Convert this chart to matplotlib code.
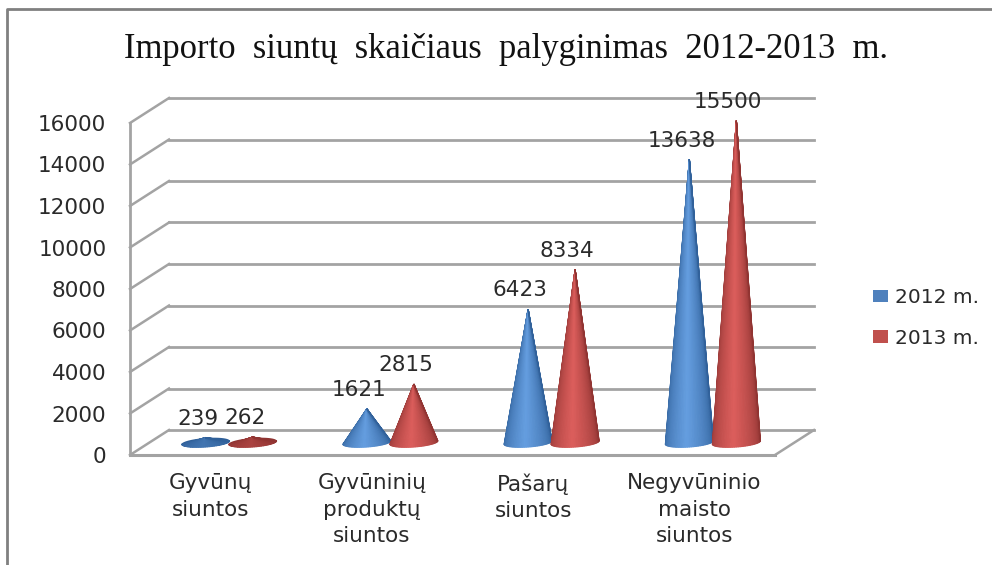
import matplotlib
matplotlib.use('Agg')
import matplotlib.pyplot as plt
import numpy as np
from matplotlib.collections import PolyCollection
from matplotlib.lines import Line2D
from matplotlib.patches import Patch
from matplotlib.colors import to_rgb

categories = ['Gyvūnų\nsiuntos', 'Gyvūninių\nproduktų\nsiuntos', 'Pašarų\nsiuntos', 'Negyvūninio\nmaisto\nsiuntos']
series_names = ['2012 m.', '2013 m.']
values_2012 = [239, 1621, 6423, 13638]
values_2013 = [262, 2815, 8334, 15500]
y_ticks = [0, 2000, 4000, 6000, 8000, 10000, 12000, 14000, 16000]
title_text = 'Importo  siuntų  skaičiaus  palyginimas  2012-2013  m.'

W, H = 992, 565
fig = plt.figure(figsize=(W / 100, H / 100), dpi=100)
# front plane of the fake 3d box, in pixels
left, right, bottom, top = 130, 775, 455, 123
ax = fig.add_axes([left / W, 1 - bottom / H, (right - left) / W, (bottom - top) / H])
ax.set_xlim(0, 4)
ax.set_ylim(0, 16000)

px_x = 4 / (right - left)
px_y = 16000 / (bottom - top)
depth_x = 39 * px_x
depth_y = 25 * px_y
grid_color = '#a3a3a3'

# back wall, side wall and floor
for v in y_ticks:
    ax.plot([depth_x, 4 + depth_x], [v + depth_y, v + depth_y], color=grid_color, lw=2, clip_on=False, zorder=1)
    ax.plot([0, depth_x], [v, v + depth_y], color=grid_color, lw=1.8, clip_on=False, zorder=1)
ax.plot([4, 4 + depth_x], [0, depth_y], color=grid_color, lw=1.8, clip_on=False, zorder=1)
ax.plot([0, 4], [0, 0], color=grid_color, lw=2.2, clip_on=False, zorder=2)
ax.plot([0, 0], [0, 16000], color=grid_color, lw=2, clip_on=False, zorder=2)


def shade(t, dark, light, strength):
    # t goes 0..1 over the visible side of the cone, highlight a bit left of centre
    k = np.clip(1 - abs(t - 0.47) / 0.53, 0, 1) ** 0.9 * strength
    return tuple(np.array(to_rgb(dark)) * (1 - k) + np.array(to_rgb(light)) * k)


def draw_cone(xc, value, dark, light):
    cx = xc + depth_x / 2
    cy = depth_y / 2
    rx = 24 * px_x
    ry = 4.5 * px_y
    skew = 1.7 * px_y
    apex = (cx, cy + value)
    angles = np.linspace(np.pi, 2 * np.pi, 41)
    bx = cx + rx * np.cos(angles)
    by = cy + ry * np.sin(angles) + skew * np.cos(angles)
    # flat cones are seen from above, they stay dark
    strength = min(1, value / 1200 + 0.15)
    # back half of the base, seen only on the flat cones
    back = np.linspace(0, np.pi, 40)
    ax.fill(cx + rx * np.cos(back), cy + ry * np.sin(back) + skew * np.cos(back),
            color=dark, lw=0, zorder=3, clip_on=False)
    polys = []
    cols = []
    for i in range(len(angles) - 1):
        polys.append([apex, (bx[i], by[i]), (bx[i + 1], by[i + 1])])
        cols.append(shade((i + 0.5) / (len(angles) - 1), dark, light, strength))
    ax.add_collection(PolyCollection(polys, facecolors=cols, edgecolors=cols, linewidths=0.8,
                                     zorder=3, clip_on=False, joinstyle='miter'))
    ax.annotate(str(value), xy=apex, xytext=(-8 * 0.72, 19 * 0.72), textcoords='offset points',
                ha='center', va='center', fontsize=15.5, color='#2a2a2a', zorder=5, annotation_clip=False)


for i in range(len(categories)):
    draw_cone(i + 0.5 - 24.5 * px_x, values_2012[i], '#2f5f98', '#659ee0')
    draw_cone(i + 0.5 + 22.5 * px_x, values_2013[i], '#8e3331', '#dc5e5c')

ax.set_xticks(np.arange(len(categories)) + 0.5)
ax.set_xticklabels(categories, fontsize=15.5, color='#2a2a2a', linespacing=1.42)
ax.set_yticks(y_ticks)
ax.set_yticklabels([str(v) for v in y_ticks], fontsize=15.5, color='#2a2a2a')
ax.tick_params(axis='x', length=0, pad=13)
ax.tick_params(axis='y', length=0, pad=17)
for s in ax.spines.values():
    s.set_visible(False)
ax.patch.set_alpha(0)

fig.text(506 / W, 1 - 49 / H, title_text, fontsize=24.9, family='Liberation Serif', color='#111111', ha='center', va='center')

handles = [Patch(facecolor='#4f81bd', edgecolor='none'), Patch(facecolor='#c0504d', edgecolor='none')]
fig.legend(handles, series_names, loc='center left', bbox_to_anchor=(855 / W, 1 - 318 / H), frameon=False,
           fontsize=14.5, labelcolor='#2a2a2a', handlelength=0.75, handleheight=0.6, handletextpad=0.35, labelspacing=1.08)

# picture frame
fig.add_artist(Line2D([7 / W, 7 / W, 1], [0, 1 - 9 / H, 1 - 9 / H], color='#808080', lw=2))

fig.savefig('out.png', dpi=100)
plt.close()
